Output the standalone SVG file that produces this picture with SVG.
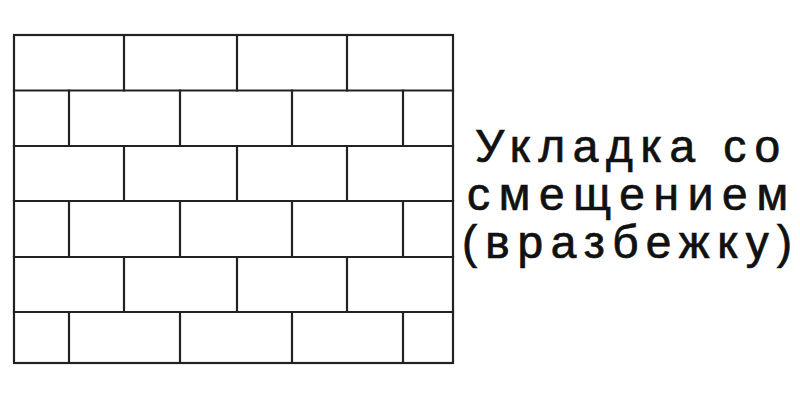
<svg xmlns="http://www.w3.org/2000/svg" width="800" height="400" viewBox="0 0 800 400">
<style>
.l{stroke:#222;stroke-width:2.2;fill:none;stroke-linecap:square}
.t{font-family:"Liberation Sans",Arial,sans-serif;font-size:46px;fill:#111;stroke:#111;stroke-width:0.7}
</style>
<rect width="800" height="400" fill="#fff"/>
<g id="wall">
<rect class="l" x="14" y="35" width="439" height="328"/>
<path class="l" d="M14 90.5H453M14 146H453M14 201H453M14 257H453M14 312H453"/>
<path class="l" d="M124 35V90.5M237 35V90.5M347 35V90.5
M69 90.5V146M180 90.5V146M292 90.5V146M403 90.5V146
M124 146V201M237 146V201M347 146V201
M69 201V257M180 201V257M292 201V257M403 201V257
M124 257V312M237 257V312M347 257V312
M69 312V363M180 312V363M292 312V363M403 312V363"/>
</g>
<g id="label">
<text class="t" x="475" y="162" textLength="305" lengthAdjust="spacing">Укладка со</text>
<text class="t" x="467" y="210" textLength="321" lengthAdjust="spacing">смещением</text>
<text class="t" x="462" y="258" textLength="330" lengthAdjust="spacing">(вразбежку)</text>
</g>
</svg>
